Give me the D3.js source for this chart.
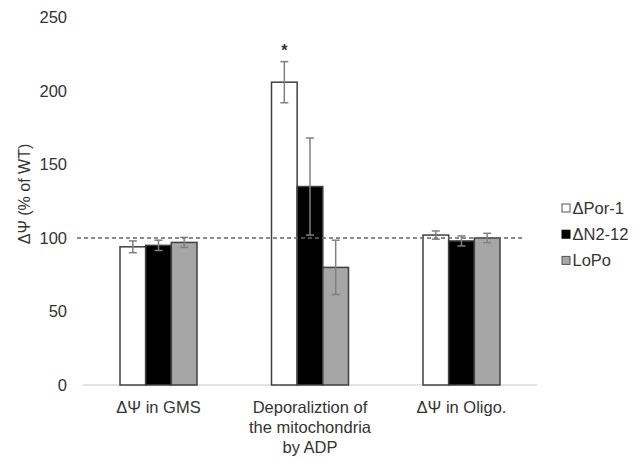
<!DOCTYPE html>
<html>
<head>
<meta charset="utf-8">
<script src="https://cdn.jsdelivr.net/npm/d3@7"></script>
<style>
  html, body { margin: 0; padding: 0; background: #fff; }
  svg text { font-family: "Liberation Sans", Arial, sans-serif; fill: #333; }
</style>
</head>
<body>
<svg id="chart" width="635" height="458"></svg>
<script>
// Membrane potential per condition, % of wild type
const categories = ["ΔΨ in GMS", "Deporaliztion of|the mitochondria|by ADP", "ΔΨ in Oligo."];
const seriesNames = ["ΔPor-1", "ΔN2-12", "LoPo"];
const seriesFill = ["#ffffff", "#000000", "#a6a6a6"];
// one array per strain, one value per category
const valuesPor = [94, 206, 102];
const valuesN212 = [95, 135, 98];
const valuesLoPo = [97, 80, 100];
const errPor = [4, 14, 2.8];
const errN212 = [3.5, 33, 3.4];
const errLoPo = [3.4, 18.5, 3.2];
const seriesValues = [valuesPor, valuesN212, valuesLoPo];
const seriesErr = [errPor, errN212, errLoPo];
const yTicks = [0, 50, 100, 150, 200, 250];
const referenceLevel = 100;
const significant = [[1, 0]]; // [category, series] marked with *

const svg = d3.select("#chart");
const y = d3.scaleLinear().domain([0, 250]).range([385, 17.5]);
const x0 = d3.scaleBand().domain(d3.range(categories.length)).range([82.75, 537.25]);
const groupW = 77;
const x1 = d3.scaleBand().domain(d3.range(seriesNames.length)).range([0, groupW]);
const gx = i => x0(i) + (x0.bandwidth() - groupW) / 2;

// y tick labels (no axis line)
const yAxis = d3.axisLeft(y).tickValues(yTicks).tickSize(0).tickPadding(0);
const ya = svg.append("g").attr("transform", "translate(67,0)").call(yAxis);
ya.select(".domain").remove();
ya.selectAll("text").style("font-size", "16.5px").attr("fill", "#333")
  .style("font-family", "'Liberation Sans', Arial, sans-serif");

// y title
svg.append("text")
  .attr("transform", "translate(30,194) rotate(-90)")
  .attr("text-anchor", "middle")
  .style("font-size", "16px")
  .text("ΔΨ (% of WT)");

// x baseline
svg.append("line")
  .attr("x1", x0.range()[0]).attr("x2", x0.range()[1])
  .attr("y1", y(0)).attr("y2", y(0))
  .attr("stroke", "#c8c8c8").attr("stroke-width", 1.2);

// bars
categories.forEach((c, ci) => {
  const g = svg.append("g").attr("transform", `translate(${gx(ci)},0)`);
  seriesNames.forEach((s, si) => {
    const v = seriesValues[si][ci];
    g.append("rect")
      .attr("x", x1(si)).attr("width", x1.bandwidth())
      .attr("y", y(v)).attr("height", y(0) - y(v))
      .attr("fill", seriesFill[si])
      .attr("stroke", "#404040").attr("stroke-width", 1.5);
  });
});

// reference line at 100 %
svg.append("line")
  .attr("x1", 77).attr("x2", 523)
  .attr("y1", y(referenceLevel)).attr("y2", y(referenceLevel))
  .attr("stroke", "#666").attr("stroke-width", 1.5)
  .attr("stroke-dasharray", "4,3");

// error bars
categories.forEach((c, ci) => {
  seriesNames.forEach((s, si) => {
    const v = seriesValues[si][ci], e = seriesErr[si][ci];
    const cx = gx(ci) + x1(si) + x1.bandwidth() / 2;
    const g = svg.append("g").attr("stroke", "#808080").attr("stroke-width", 1.5);
    g.append("line").attr("x1", cx).attr("x2", cx).attr("y1", y(v + e)).attr("y2", y(v - e));
    g.append("line").attr("x1", cx - 4).attr("x2", cx + 4).attr("y1", y(v + e)).attr("y2", y(v + e));
    g.append("line").attr("x1", cx - 4).attr("x2", cx + 4).attr("y1", y(v - e)).attr("y2", y(v - e));
  });
});

// significance marks
significant.forEach(([ci, si]) => {
  const v = seriesValues[si][ci], e = seriesErr[si][ci];
  const cx = gx(ci) + x1(si) + x1.bandwidth() / 2;
  svg.append("text")
    .attr("x", cx).attr("y", y(v + e) - 6)
    .attr("text-anchor", "middle")
    .style("font-size", "16px").style("font-weight", "bold")
    .text("*");
});

// category labels
categories.forEach((c, ci) => {
  const t = svg.append("text")
    .attr("text-anchor", "middle")
    .style("font-size", "16.5px");
  c.split("|").forEach((line, li) => {
    t.append("tspan")
      .attr("x", x0(ci) + x0.bandwidth() / 2)
      .attr("y", 412.5 + li * 20)
      .text(line);
  });
});

// legend
const lg = svg.append("g").attr("transform", "translate(562,208)");
seriesNames.forEach((s, si) => {
  const row = lg.append("g").attr("transform", `translate(0,${si * 26.2})`);
  row.append("rect")
    .attr("x", 0).attr("y", -4).attr("width", 8).attr("height", 8)
    .attr("fill", seriesFill[si])
    .attr("stroke", si === 1 ? "#000" : "#555").attr("stroke-width", 1);
  row.append("text")
    .attr("x", 10.5).attr("y", 5.8)
    .style("font-size", "16.5px")
    .text(s);
});
</script>
</body>
</html>
